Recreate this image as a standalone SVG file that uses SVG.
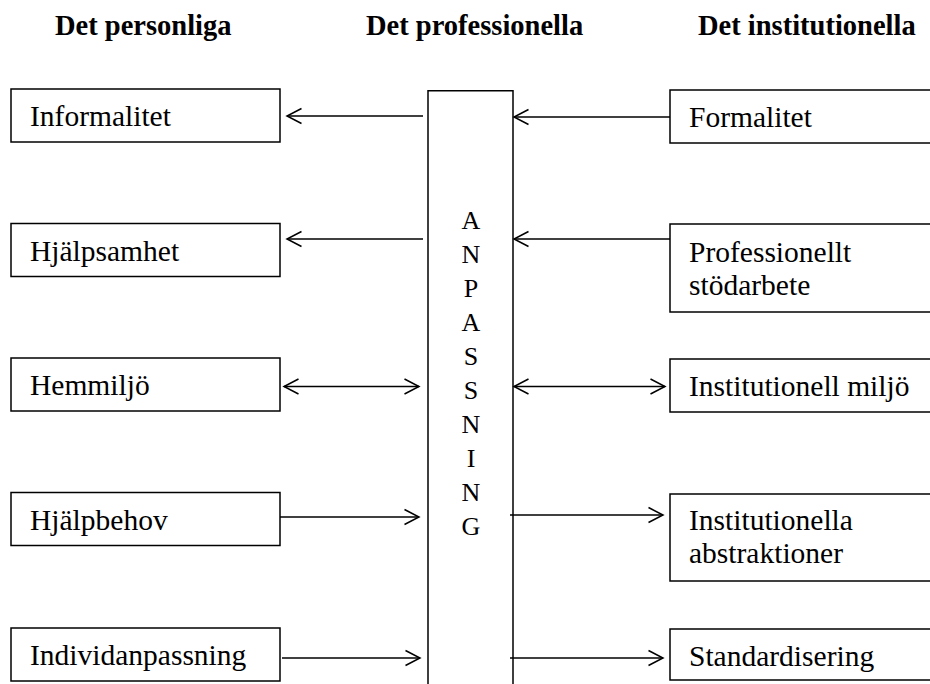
<svg xmlns="http://www.w3.org/2000/svg" width="930" height="684" viewBox="0 0 930 684">
<defs>
<style>
.box{fill:#fff;stroke:#000;stroke-width:1.5}
.t{font-family:"Liberation Serif","Times New Roman",serif;font-size:29.5px;fill:#000}
.h{font-family:"Liberation Serif","Times New Roman",serif;font-size:28.5px;font-weight:bold;fill:#000}
.c{font-family:"Liberation Serif","Times New Roman",serif;font-size:26px;fill:#000;text-anchor:middle}
.ln{fill:none;stroke:#000;stroke-width:1.5}
</style>
<marker id="ah" viewBox="0 0 18 18" refX="16" refY="9" markerWidth="18" markerHeight="18" markerUnits="userSpaceOnUse" orient="auto-start-reverse">
<path d="M1.5,1.5 L16,9 L1.5,16.5" fill="none" stroke="#000" stroke-width="1.5"/>
</marker>
</defs>
<rect width="930" height="684" fill="#fff"/>
<g id="headers">
<text class="h" x="55" y="35">Det personliga</text>
<text class="h" x="366" y="35">Det professionella</text>
<text class="h" x="698" y="35">Det institutionella</text>
</g>
<g id="n-anpassning">
<path class="ln" d="M428,700 V90.7 H513 V700"/>
<text class="c" x="471" y="229">A</text>
<text class="c" x="471" y="263">N</text>
<text class="c" x="471" y="297">P</text>
<text class="c" x="471" y="331">A</text>
<text class="c" x="471" y="365">S</text>
<text class="c" x="471" y="399">S</text>
<text class="c" x="471" y="433">N</text>
<text class="c" x="471" y="467">I</text>
<text class="c" x="471" y="501">N</text>
<text class="c" x="471" y="535">G</text>
</g>
<g id="n-informalitet"><rect class="box" x="11" y="89" width="269" height="53"/><text class="t" x="30" y="126">Informalitet</text></g>
<g id="n-hjalpsamhet"><rect class="box" x="11" y="223.5" width="269" height="53"/><text class="t" x="30" y="260.5">Hjälpsamhet</text></g>
<g id="n-hemmiljo"><rect class="box" x="11" y="358" width="269" height="53"/><text class="t" x="30" y="395">Hemmiljö</text></g>
<g id="n-hjalpbehov"><rect class="box" x="11" y="492.5" width="269" height="53"/><text class="t" x="30" y="529.5">Hjälpbehov</text></g>
<g id="n-individanpassning"><rect class="box" x="11" y="628" width="269" height="53"/><text class="t" x="30" y="665">Individanpassning</text></g>
<g id="n-formalitet"><rect class="box" x="670" y="90" width="280" height="53"/><text class="t" x="689" y="127">Formalitet</text></g>
<g id="n-professionellt"><rect class="box" x="670" y="224" width="280" height="88"/><text class="t" x="689" y="262">Professionellt</text><text class="t" x="689" y="295">stödarbete</text></g>
<g id="n-institutionellmiljo"><rect class="box" x="670" y="359" width="280" height="53"/><text class="t" x="689" y="396">Institutionell miljö</text></g>
<g id="n-abstraktioner"><rect class="box" x="670" y="494" width="280" height="87"/><text class="t" x="689" y="530">Institutionella</text><text class="t" x="689" y="563">abstraktioner</text></g>
<g id="n-standardisering"><rect class="box" x="670" y="629" width="280" height="51"/><text class="t" x="689" y="666">Standardisering</text></g>
<g id="connectors">
<path class="ln" d="M423,116 H287" marker-end="url(#ah)"/>
<path class="ln" d="M670,117 H514" marker-end="url(#ah)"/>
<path class="ln" d="M423,239 H287" marker-end="url(#ah)"/>
<path class="ln" d="M670,239 H514" marker-end="url(#ah)"/>
<path class="ln" d="M284,386.5 H419" marker-start="url(#ah)" marker-end="url(#ah)"/>
<path class="ln" d="M514,386.5 H665" marker-start="url(#ah)" marker-end="url(#ah)"/>
<path class="ln" d="M280,517 H419" marker-end="url(#ah)"/>
<path class="ln" d="M510,515 H663" marker-end="url(#ah)"/>
<path class="ln" d="M282,658 H420" marker-end="url(#ah)"/>
<path class="ln" d="M510,658 H663" marker-end="url(#ah)"/>
</g>
</svg>
